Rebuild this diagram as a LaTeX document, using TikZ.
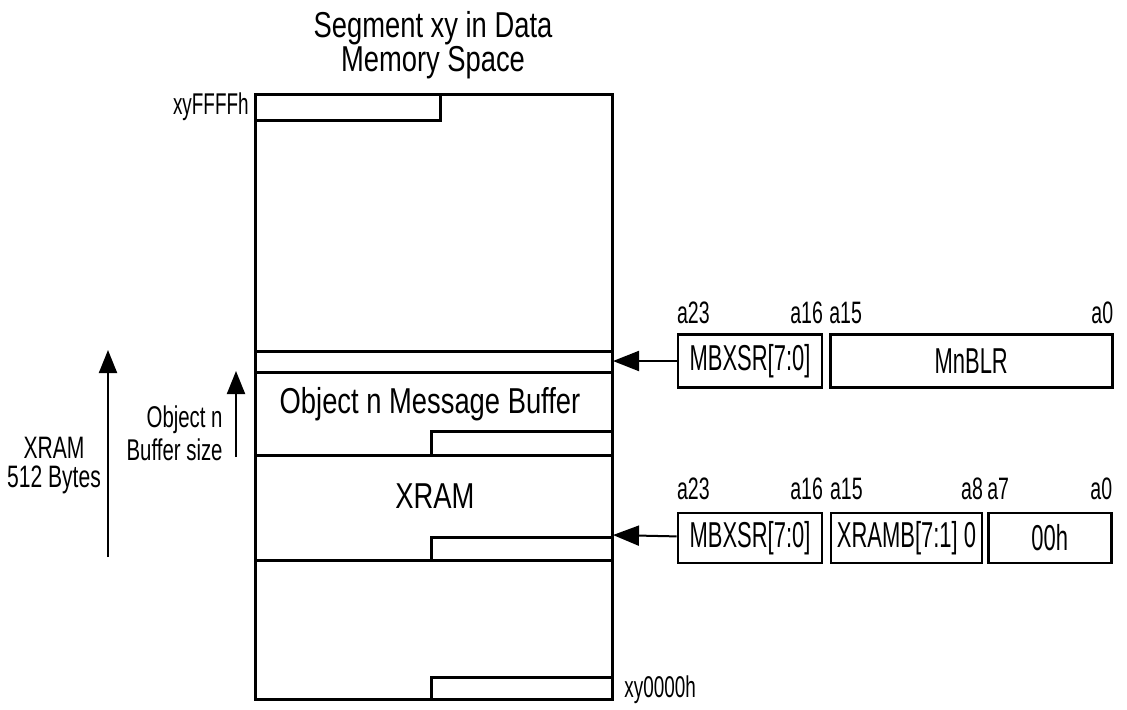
\documentclass[tikz,border=0pt]{standalone}
\usepackage{fontspec}
\setmainfont[FakeStretch=0.76]{Liberation Sans}
\newfontfamily\condfont[FakeStretch=0.68]{Liberation Sans}
\newfontfamily\regfont[FakeStretch=0.61]{Liberation Sans}
\newfontfamily\bitfont[FakeStretch=0.63]{Liberation Sans}
\usetikzlibrary{arrows.meta,positioning}
\tikzset{
  memline/.style={line width=1.5pt},
  regbox/.style={draw, line width=1.3pt, minimum height=25pt, inner sep=0pt,
    font=\regfont\fontsize{18}{20}\selectfont},
  bitlbl/.style={inner sep=0pt, font=\bitfont\fontsize{15.5}{17}\selectfont},
  addrlbl/.style={inner sep=0pt, font=\bitfont\fontsize{15}{17}\selectfont},
  sizelbl/.style={inner sep=0pt, align=center, font=\condfont\fontsize{15.5}{14.5}\selectfont},
  arealbl/.style={inner sep=0pt, font=\fontsize{18}{16}\selectfont},
  arr/.style={-{Triangle[length=13pt,width=10pt]}, line width=1pt},
  sizearr/.style={-{Triangle[length=11.5pt,width=9pt]}, line width=1pt}
}

\begin{document}
\begin{tikzpicture}[x=0.5pt, y=-0.5pt]
    \useasboundingbox (0,0) rectangle (1127,709);
    % segment memory map
    \node[arealbl, align=center] (title) at (433,45) {Segment xy in Data\\Memory Space};
    \draw[memline] (255,94) rectangle (612,699);
    \draw[memline] (255,120) -| (440,94);
    \draw[memline] (255,351) -- (612,351);
    \draw[memline] (255,372) -- (612,372);
    \draw[memline] (255,455) -- (612,455);
    \draw[memline] (255,560) -- (612,560);
    \draw[memline] (431,455) |- (612,431);
    \draw[memline] (431,560) |- (612,537);
    \draw[memline] (431,699) |- (612,677);
    \node[arealbl, anchor=base] (bufname) at (430,413) {Object n Message Buffer};
    \node[arealbl, anchor=base] (xramname) at (435,508) {XRAM};
    \node[addrlbl, anchor=east] (addrtop) at (249,107) {xyFFFFh};
    \node[addrlbl, anchor=west] (addrbot) at (624,690) {xy0000h};

    % sizes on the left
    \coordinate (xramlo) at (108,557);
    \coordinate (xramhi) at (108,350);
    \coordinate (buflo) at (236,457);
    \coordinate (bufhi) at (236,371);
    \draw[sizearr] (xramlo) -- (xramhi);
    \draw[sizearr] (buflo) -- (bufhi);
    \node[sizelbl] (xramsize) at (54,466) {XRAM\\512 Bytes};
    \node[sizelbl, align=right, anchor=east, font=\condfont\fontsize{15}{16.5}\selectfont]
      (bufsize) at (223,433) {Object n\\Buffer size};

    % buffer address register
    \node[regbox, minimum width=72pt, minimum height=26.5pt] (mbxa) at (750,361) {MBXSR[7:0]};
    \node[regbox, minimum width=141pt, minimum height=26.5pt, right=2.8pt of mbxa] (mnblr) {MnBLR};
    \node[bitlbl, above=5pt of mbxa.north west, anchor=base west] (a23a) {a23};
    \node[bitlbl, above=5pt of mbxa.north east, anchor=base east] (a16a) {a16};
    \node[bitlbl, above=5pt of mnblr.north west, anchor=base west] (a15a) {a15};
    \node[bitlbl, above=5pt of mnblr.north east, anchor=base east] (a0a) {a0};
    \coordinate (bufptr) at (613,361);
    \draw[arr] (mbxa) -- (bufptr);

    % XRAM address register
    \node[regbox, minimum width=72pt] (mbxb) at (750,538) {MBXSR[7:0]};
    \node[regbox, minimum width=75.5pt, right=3.2pt of mbxb] (xramb) {XRAMB[7:1] 0};
    \node[regbox, minimum width=61.5pt, right=1.8pt of xramb] (lowb) {00h};
    \node[bitlbl, above=6pt of mbxb.north west, anchor=base west] (a23b) {a23};
    \node[bitlbl, above=6pt of mbxb.north east, anchor=base east] (a16b) {a16};
    \node[bitlbl, above=6pt of xramb.north west, anchor=base west] (a15b) {a15};
    \node[bitlbl, above=6pt of xramb.north east, anchor=base east] (a8b) {a8};
    \node[bitlbl, above=6pt of lowb.north west, anchor=base west] (a7b) {a7};
    \node[bitlbl, above=6pt of lowb.north east, anchor=base east] (a0b) {a0};
    \coordinate (xramptr) at (613,535);
    \draw[arr] (mbxb) -- (xramptr);
  \end{tikzpicture}
\end{document}
